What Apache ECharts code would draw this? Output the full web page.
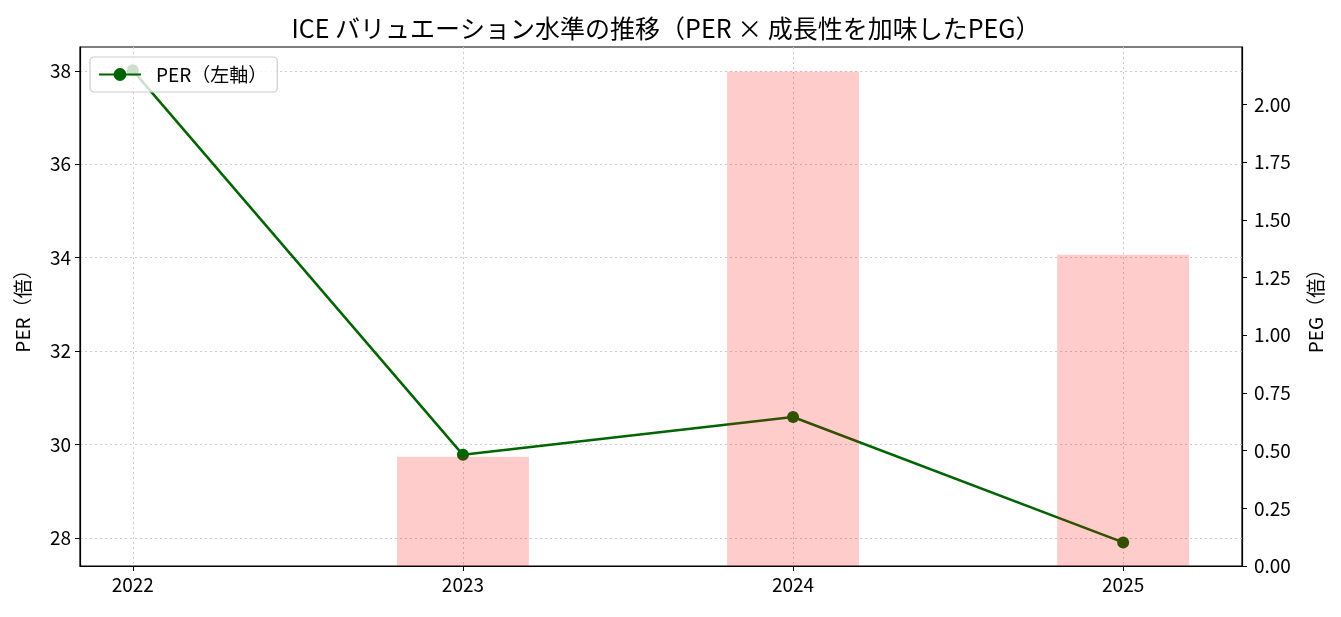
<!DOCTYPE html>
<html>
<head>
<meta charset="utf-8">
<script src="https://cdn.jsdelivr.net/npm/echarts@6/dist/echarts.min.js"></script>
<style>
  html, body { margin: 0; padding: 0; background: #fff; }
  #chart { width: 1341px; height: 617px; }
</style>
</head>
<body>
<div id="chart"></div>
<script>
var years = [2022, 2023, 2024, 2025];
var perValues = [38.01, 29.78, 30.59, 27.905];
var pegValues = [null, 0.473, 2.143, 1.349];
var perTicks = [28, 30, 32, 34, 36, 38];
var pegTicks = [0, 0.25, 0.5, 0.75, 1.0, 1.25, 1.5, 1.75, 2.0];

var font = '"Noto Sans CJK JP", "Noto Sans", sans-serif';

function pairs(xs, ys) {
    var out = [];
    for (var i = 0; i < xs.length; i++) {
        if (ys[i] !== null) {
            out.push([xs[i], ys[i]]);
        }
    }
    return out;
}

var chart = echarts.init(document.getElementById('chart'));

var gridLine = { show: true, lineStyle: { color: '#cccccc', type: [2, 3], width: 1 } };
var axisBlack = { show: true, lineStyle: { color: '#000', width: 1.2 } };

chart.setOption({
    animation: false,
    textStyle: { fontFamily: font },
    title: {
        text: 'ICE バリュエーション水準の推移（PER × 成長性を加味したPEG）',
        left: 661,
        top: 11,
        textAlign: 'center',
        textStyle: { fontFamily: font, fontSize: 25, fontWeight: 'normal', color: '#000' }
    },
    legend: {
        data: ['PER（左軸）'],
        left: 90,
        top: 57,
        orient: 'vertical',
        padding: [8, 10, 8, 8],
        itemWidth: 42,
        itemHeight: 16,
        backgroundColor: 'rgba(255,255,255,0.8)',
        borderColor: '#cccccc',
        borderWidth: 1.2,
        borderRadius: 4,
        textStyle: { fontFamily: font, fontSize: 19, color: '#000', padding: [0, 0, 0, 10] }
    },
    grid: {
        left: 80,
        right: 99,
        top: 47,
        bottom: 51,
        show: true,
        borderColor: '#000',
        borderWidth: 1.2,
        backgroundColor: 'transparent'
    },
    xAxis: {
        type: 'value',
        min: 2021.84,
        max: 2025.36,
        axisLine: axisBlack,
        axisTick: { show: true, length: 5, lineStyle: { color: '#000' }, customValues: years },
        axisLabel: {
            customValues: years,
            color: '#000',
            fontSize: 19,
            fontFamily: font,
            margin: 9,
            formatter: function (v) { return String(v); }
        },
        splitLine: gridLine
    },
    yAxis: [
        {
            type: 'value',
            position: 'left',
            min: 27.40,
            max: 38.51,
            name: 'PER（倍）',
            nameLocation: 'middle',
            nameRotate: 90,
            nameGap: 48,
            nameTextStyle: { fontFamily: font, fontSize: 19, color: '#000' },
            axisLine: axisBlack,
            axisTick: { show: true, length: 5, lineStyle: { color: '#000' }, customValues: perTicks },
            axisLabel: { customValues: perTicks, color: '#000', fontSize: 19, fontFamily: font, margin: 9 },
            splitLine: gridLine
        },
        {
            type: 'value',
            position: 'right',
            min: 0,
            max: 2.249,
            name: 'PEG（倍）',
            nameLocation: 'middle',
            nameRotate: 90,
            nameGap: 64,
            nameTextStyle: { fontFamily: font, fontSize: 19, color: '#000' },
            axisLine: axisBlack,
            axisTick: { show: true, length: 5, lineStyle: { color: '#000' }, customValues: pegTicks },
            axisLabel: {
                customValues: pegTicks,
                color: '#000',
                fontSize: 19,
                fontFamily: font,
                margin: 12,
                formatter: function (v) { return v.toFixed(2); }
            },
            splitLine: { show: false }
        }
    ],
    series: [
        {
            name: 'PER（左軸）',
            type: 'line',
            yAxisIndex: 0,
            data: pairs(years, perValues),
            symbol: 'circle',
            symbolSize: 12,
            z: 2,
            itemStyle: { color: '#006400' },
            lineStyle: { color: '#006400', width: 2.5 }
        },
        {
            name: 'PEG（右軸）',
            type: 'bar',
            yAxisIndex: 1,
            data: pairs(years, pegValues),
            barWidth: 132,
            z: 3,
            itemStyle: { color: 'rgba(255,0,0,0.2)' }
        }
    ]
});
</script>
</body>
</html>
